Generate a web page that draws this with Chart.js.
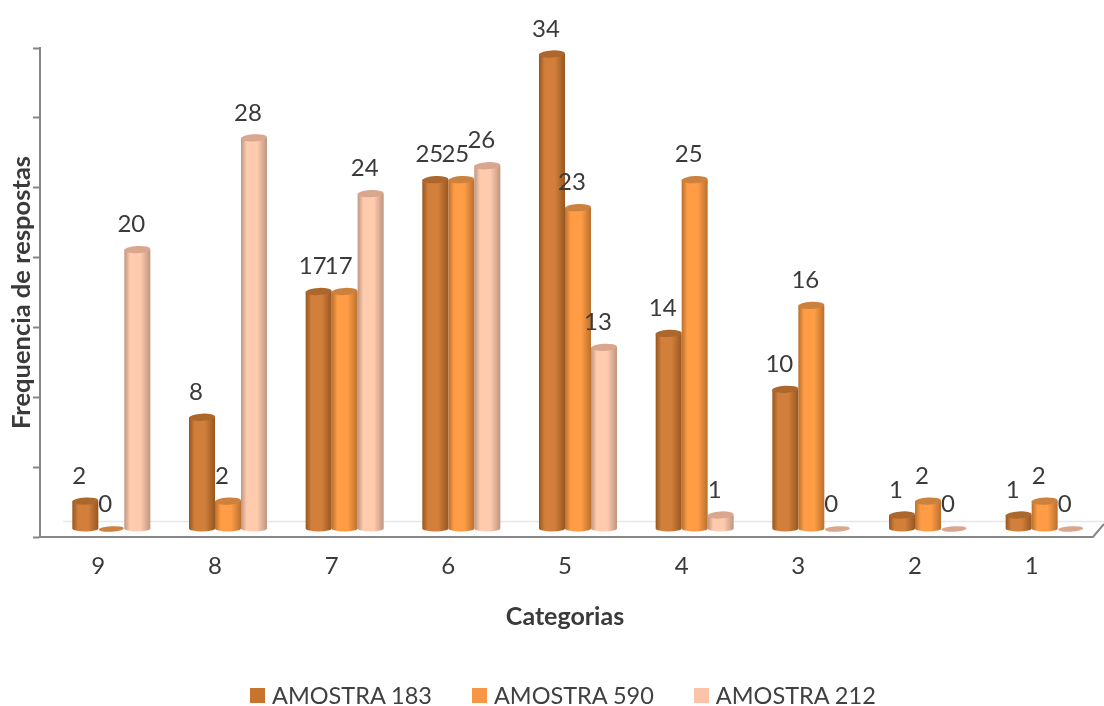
<!DOCTYPE html>
<html lang="pt">
<head>
<meta charset="utf-8">
<title>Frequencia de respostas</title>
<script src="https://cdn.jsdelivr.net/npm/chart.js@4"></script>
<style>
  html, body { margin: 0; padding: 0; background: #fff; }
  #wrap { position: relative; width: 1104px; height: 706px; overflow: hidden; }
  #grafico { display: block; }
  #legenda {
    position: absolute; left: 250px; top: 681px;
    display: flex; font: 23.5px Lato, sans-serif; color: #404040; line-height: 28px;
  }
  .legend-item { display: flex; align-items: center; margin-right: 40px; white-space: nowrap; }
  .legend-color { width: 15px; height: 15px; margin-right: 7px; }
</style>
</head>
<body>
<div id="wrap">
  <canvas id="grafico" width="1104" height="706"></canvas>
  <div id="legenda"></div>
</div>
<script>
// Valores lidos por categoria
const categorias = ['9', '8', '7', '6', '5', '4', '3', '2', '1'];
const amostra183 = [2, 8, 17, 25, 34, 14, 10, 1, 1];
const amostra590 = [0, 2, 17, 25, 23, 25, 16, 2, 2];
const amostra212 = [20, 28, 24, 26, 13, 1, 0, 0, 0];

const TEXT_COLOR = '#3A3A3A';
const AXIS_COLOR = '#868686';

// Paleta de cada cilindro: borda, meio, topo e legenda
const CYL_COLORS = {
  'AMOSTRA 183': { edge: '#975620', mid: '#D17F3A', top: '#AC672D', legend: '#C8742F' },
  'AMOSTRA 590': { edge: '#B9702F', mid: '#FF9C45', top: '#CC823E', legend: '#F79646' },
  'AMOSTRA 212': { edge: '#BE9680', mid: '#FFCBAE', top: '#D8A78E', legend: '#FBC4A8' }
};

// Deslocamento da perspectiva entre o plano do eixo e as barras
const DEPTH_X = 13;
const DEPTH_Y = 8;

function drawCylinder(ctx, x, top, base, width, colors) {
  const r = width / 2;
  const tilt = -0.05;
  ctx.save();
  if (base - top < 1) {
    // valor zero: somente o disco achatado
    ctx.fillStyle = colors.top;
    ctx.beginPath();
    ctx.ellipse(x, base, r - 0.5, 2.8, tilt, 0, Math.PI * 2);
    ctx.fill();
    ctx.restore();
    return;
  }
  const grad = ctx.createLinearGradient(x - r, 0, x + r, 0);
  grad.addColorStop(0, colors.edge);
  grad.addColorStop(0.22, colors.mid);
  grad.addColorStop(0.62, colors.mid);
  grad.addColorStop(1, colors.edge);
  ctx.fillStyle = grad;
  ctx.beginPath();
  ctx.moveTo(x - r, top);
  ctx.lineTo(x - r, base);
  ctx.ellipse(x, base, r, 3, 0, Math.PI, 0, true);
  ctx.lineTo(x + r, top);
  ctx.closePath();
  ctx.fill();
  ctx.fillStyle = colors.top;
  ctx.beginPath();
  ctx.ellipse(x, top, r, 3.6, tilt, 0, Math.PI * 2);
  ctx.fill();
  ctx.restore();
}

// Chao em perspectiva atras das barras
const floorPlugin = {
  id: 'floorPlugin',
  beforeDatasetsDraw(chart) {
    const { ctx, chartArea } = chart;
    ctx.save();
    ctx.strokeStyle = '#E6E6E6';
    ctx.lineWidth = 1.5;
    ctx.beginPath();
    ctx.moveTo(chartArea.left + 23, chartArea.bottom - 15.5);
    ctx.lineTo(1104, chartArea.bottom - 15.5);
    ctx.stroke();
    ctx.strokeStyle = AXIS_COLOR;
    ctx.lineWidth = 2;
    ctx.beginPath();
    ctx.moveTo(chartArea.right, chartArea.bottom);
    ctx.lineTo(chartArea.right + 3, chartArea.bottom);
    ctx.lineTo(1104, chartArea.bottom - 13);
    ctx.stroke();
    ctx.restore();
  }
};

// Desenha os cilindros e os valores a partir dos elementos de barra
const cylinderPlugin = {
  id: 'cylinderPlugin',
  afterDatasetsDraw(chart) {
    const { ctx } = chart;
    chart.data.datasets.forEach((dataset, di) => {
      const meta = chart.getDatasetMeta(di);
      const colors = CYL_COLORS[dataset.label];
      meta.data.forEach(bar => {
        drawCylinder(ctx, bar.x + DEPTH_X, bar.y - DEPTH_Y, bar.base - DEPTH_Y, bar.width, colors);
      });
    });
    ctx.save();
    ctx.fillStyle = TEXT_COLOR;
    ctx.font = '24px Lato, sans-serif';
    ctx.textAlign = 'center';
    ctx.textBaseline = 'middle';
    chart.data.datasets.forEach((dataset, di) => {
      const meta = chart.getDatasetMeta(di);
      meta.data.forEach((bar, i) => {
        ctx.fillText(String(dataset.data[i]), bar.x + 7, bar.y - 33);
      });
    });
    ctx.restore();
  }
};

const grafico = new Chart(document.getElementById('grafico'), {
  type: 'bar',
  data: {
    labels: categorias,
    datasets: [
      { label: 'AMOSTRA 183', data: amostra183, backgroundColor: 'rgba(0,0,0,0)' },
      { label: 'AMOSTRA 590', data: amostra590, backgroundColor: 'rgba(0,0,0,0)' },
      { label: 'AMOSTRA 212', data: amostra212, backgroundColor: 'rgba(0,0,0,0)' }
    ]
  },
  options: {
    responsive: false,
    animation: false,
    layout: { padding: { top: 48, right: 14, left: 0, bottom: 0 } },
    datasets: { bar: { categoryPercentage: 0.6686, barPercentage: 1 } },
    plugins: {
      legend: { display: false },
      tooltip: { enabled: false }
    },
    scales: {
      x: {
        afterFit: scale => { scale.height = 169; },
        grid: { display: true, drawOnChartArea: false, drawTicks: false },
        border: { color: AXIS_COLOR, width: 2 },
        ticks: { color: TEXT_COLOR, font: { family: 'Lato', size: 24 }, padding: 15, maxRotation: 0 },
        title: {
          display: true,
          text: 'Categorias',
          color: TEXT_COLOR,
          font: { family: 'Lato', size: 25, weight: 'bold' },
          padding: { top: 0, bottom: 74 }
        }
      },
      y: {
        min: 0,
        max: 35,
        afterFit: scale => { scale.width = 40; },
        grid: { drawOnChartArea: false, drawTicks: true, tickLength: 7, tickColor: AXIS_COLOR, tickWidth: 2 },
        border: { color: AXIS_COLOR, width: 2 },
        ticks: { stepSize: 5, display: false },
        title: {
          display: true,
          text: 'Frequencia de respostas',
          color: TEXT_COLOR,
          font: { family: 'Lato', size: 25.5, weight: 'bold' },
          padding: { top: 6, bottom: 0 }
        }
      }
    }
  },
  plugins: [floorPlugin, cylinderPlugin]
});

// Legenda em HTML montada a partir dos datasets
const legendContainer = document.getElementById('legenda');
for (const dataset of grafico.data.datasets) {
  const legendItem = document.createElement('div');
  legendItem.className = 'legend-item';
  const colorBox = document.createElement('div');
  colorBox.className = 'legend-color';
  colorBox.style.backgroundColor = CYL_COLORS[dataset.label].legend;
  const label = document.createElement('span');
  label.textContent = dataset.label;
  legendItem.appendChild(colorBox);
  legendItem.appendChild(label);
  legendContainer.appendChild(legendItem);
}
</script>
</body>
</html>
